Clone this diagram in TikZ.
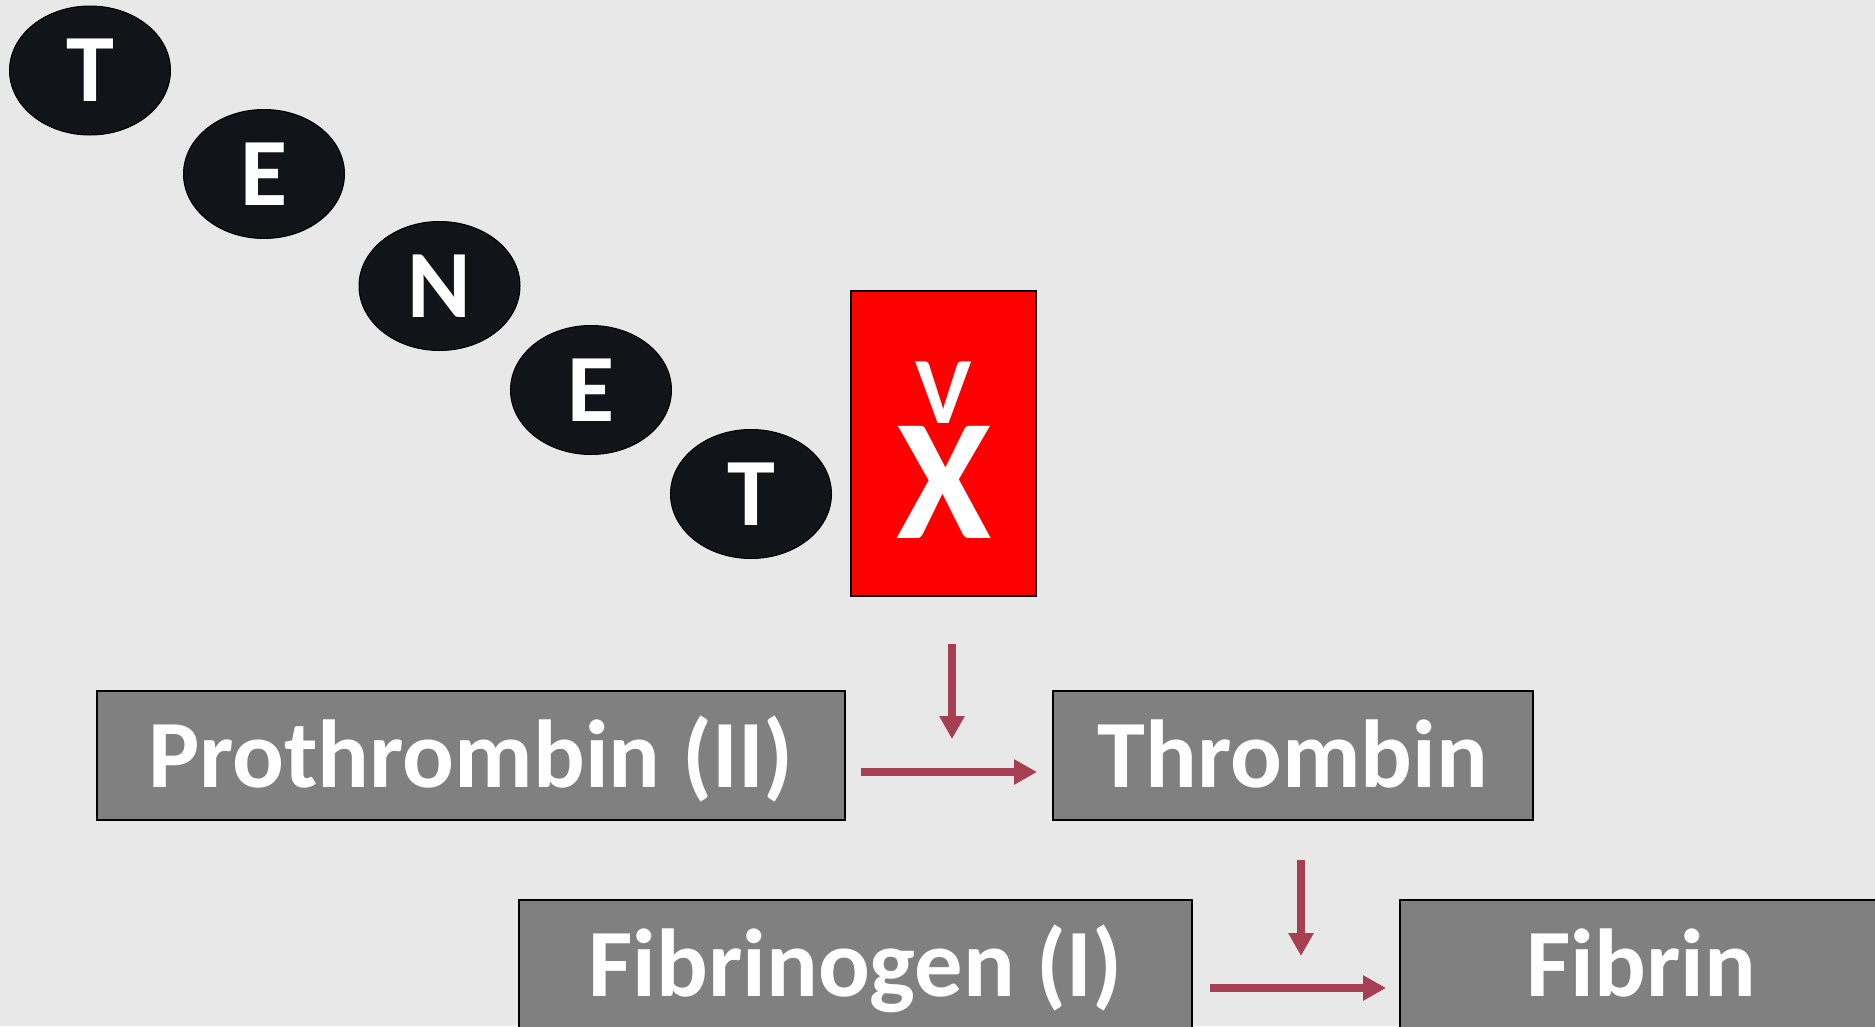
\documentclass[tikz,border=0pt]{standalone}
\usepackage{fontspec}
\setmainfont{Carlito}
\usetikzlibrary{shapes.geometric,arrows.meta}
\definecolor{bg}{HTML}{E8E8E8}
\definecolor{ell}{HTML}{111419}
\definecolor{boxg}{HTML}{808080}
\definecolor{arr}{HTML}{A63F51}
\begin{document}
\begin{tikzpicture}[x=1pt,y=-1pt,
  letter/.style={ellipse, draw=black, line width=1pt, fill=ell, minimum width=161pt, minimum height=129pt, inner sep=0pt, text=white, font=\bfseries\fontsize{96.5}{110}\selectfont},
  grbox/.style={rectangle, draw=black, line width=2pt, fill=boxg, inner sep=0pt, minimum height=129pt, text=white, font=\bfseries\fontsize{96.5}{110}\selectfont, text height=64pt, text depth=0pt},
  redbox/.style={rectangle, draw=black, line width=2pt, fill=red, inner sep=0pt},
  wtext/.style={anchor=base, inner sep=0pt, text=white},
  flow/.style={arr, line width=8.5pt, -{Triangle[length=23pt,width=24pt]}}
]
\useasboundingbox (0,0) rectangle (1875,1026);
\fill[bg] (0,0) rectangle (1875,1026);
\clip (0,0) rectangle (1875,1026);

\node[letter] (t1) at (90,70.5) {T};
\node[letter] (e1) at (264,174) {E};
\node[letter] (n1) at (439.5,286) {N};
\node[letter] (e2) at (591,390) {E};
\node[letter] (t2) at (751,494) {T};

\node[redbox, minimum width=185pt, minimum height=305pt] (fx) at (943.5,443.5) {};
\node[wtext, font=\bfseries\fontsize{95}{110}\selectfont] (v) at (944,423) {V};
\node[wtext, font=\bfseries\fontsize{173}{200}\selectfont] (x) at (944,538) {X};

\node[grbox, minimum width=748pt] (pro) at (471,755.5) {Prothrombin (II)};
\node[grbox, minimum width=480pt] (thr) at (1293,755.5) {Thrombin};
\node[grbox, minimum width=673pt] (fbg) at (855.5,964.5) {Fibrinogen (I)};
\node[grbox, minimum width=482pt] (fbn) at (1641,964.5) {Fibrin};

\coordinate (a1s) at (952,644);
\coordinate (a1e) at (952,739);
\coordinate (h1s) at (861,772);
\coordinate (h1e) at (1037,772);
\coordinate (a2s) at (1301,860);
\coordinate (a2e) at (1301,956);
\coordinate (h2s) at (1210,988);
\coordinate (h2e) at (1386,988);

\draw[flow] (a1s) -- (a1e);
\draw[flow] (h1s) -- (h1e);
\draw[flow] (a2s) -- (a2e);
\draw[flow] (h2s) -- (h2e);
\end{tikzpicture}
\end{document}
